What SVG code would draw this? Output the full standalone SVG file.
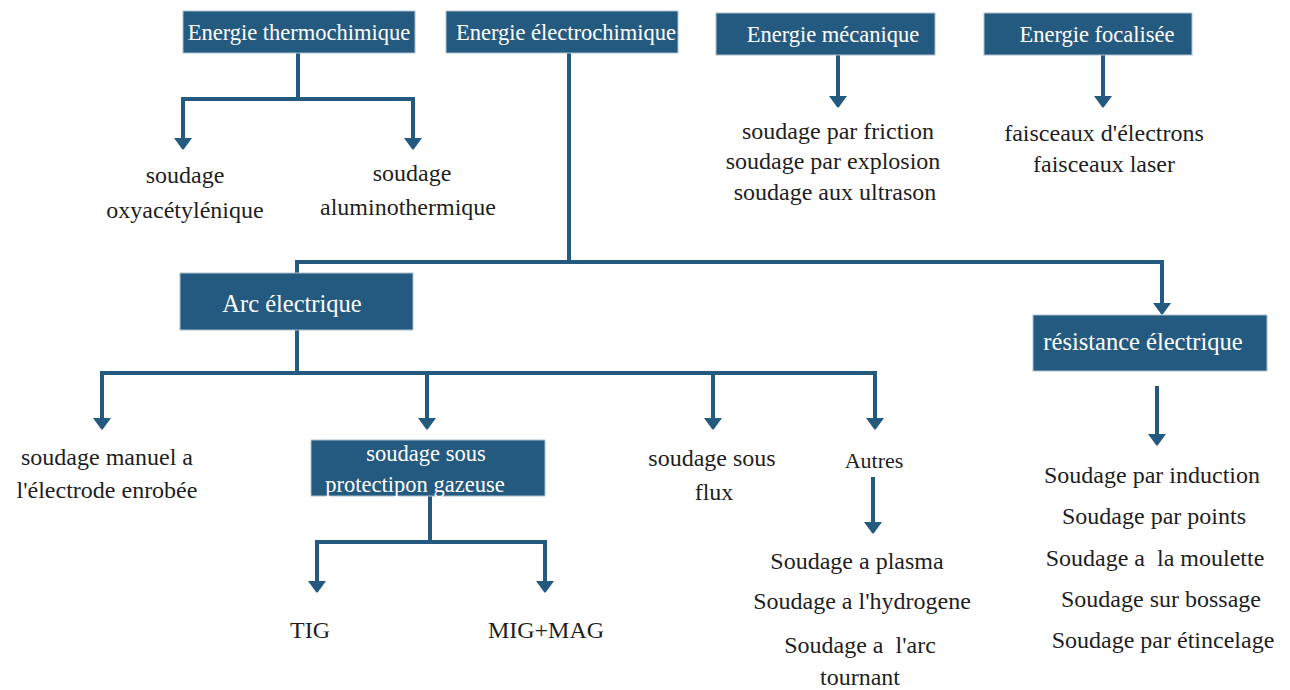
<svg xmlns="http://www.w3.org/2000/svg" width="1290" height="690" viewBox="0 0 1290 690">
<defs>
<marker id="ah" markerUnits="userSpaceOnUse" markerWidth="12" markerHeight="18" viewBox="0 0 12 18" refX="2" refY="9" orient="auto">
<path d="M0,0 L11,8 Q12,9 11,10 L0,18 Z" fill="#245a7f"/>
</marker>
<style>
.box{fill:#245a7f;stroke:#a9c0d2;stroke-width:1}
.bt{font-family:"Liberation Serif",serif;font-size:22.5px;fill:#ffffff;text-anchor:middle}
.bt2{font-family:"Liberation Serif",serif;font-size:24.5px;fill:#ffffff;text-anchor:middle}
.t{font-family:"Liberation Serif",serif;font-size:24px;fill:#1e1e1e;text-anchor:middle}
.ln{fill:none;stroke:#245a7f;stroke-width:4}
.ar{fill:none;stroke:#245a7f;stroke-width:4;marker-end:url(#ah)}
</style>
</defs>
<rect width="1290" height="690" fill="#ffffff"/>
<g id="connectors">
<path class="ln" d="M298,53 V99 M183,99 H415"/>
<path class="ar" d="M183,97 V140"/>
<path class="ar" d="M413,97 V140"/>
<path class="ar" d="M838,55 V98"/>
<path class="ar" d="M1103,55 V98"/>
<path class="ln" d="M569,53 V262 M295,262 H1164 M297,260 V273"/>
<path class="ar" d="M1162,260 V305"/>
<path class="ln" d="M297,330 V373 M100,373 H877"/>
<path class="ar" d="M102,371 V420"/>
<path class="ar" d="M427,371 V420"/>
<path class="ar" d="M713,371 V420"/>
<path class="ar" d="M875,371 V420"/>
<path class="ar" d="M873,477 V524"/>
<path class="ln" d="M430,496 V542 M315,542 H547"/>
<path class="ar" d="M317,540 V583"/>
<path class="ar" d="M545,540 V583"/>
<path class="ar" d="M1157,386 V436"/>
</g>
<g id="n-thermo"><rect class="box" x="183" y="11" width="232" height="42"/><text class="bt" x="299" y="40">Energie thermochimique</text></g>
<g id="n-electro"><rect class="box" x="446" y="11" width="232" height="42"/><text class="bt" x="566" y="40">Energie électrochimique</text></g>
<g id="n-meca"><rect class="box" x="716" y="13" width="219" height="42"/><text class="bt" x="833" y="42">Energie mécanique</text></g>
<g id="n-focal"><rect class="box" x="984" y="13" width="208" height="42"/><text class="bt" x="1097" y="42">Energie focalisée</text></g>
<g id="n-oxy"><text class="t" x="185" y="183">soudage</text><text class="t" x="185" y="218">oxyacétylénique</text></g>
<g id="n-alu"><text class="t" x="412" y="181">soudage</text><text class="t" x="408" y="215">aluminothermique</text></g>
<g id="n-meca-list"><text class="t" x="838" y="139">soudage par friction</text><text class="t" x="833" y="169">soudage par explosion</text><text class="t" x="835" y="200">soudage aux ultrason</text></g>
<g id="n-focal-list"><text class="t" x="1104" y="141">faisceaux d'électrons</text><text class="t" x="1104" y="172">faisceaux laser</text></g>
<g id="n-arc"><rect class="box" x="180" y="273" width="233" height="57"/><text class="bt2" x="292" y="312">Arc électrique</text></g>
<g id="n-resist"><rect class="box" x="1033" y="315" width="234" height="56"/><text class="bt2" x="1143" y="350">résistance électrique</text></g>
<g id="n-manuel"><text class="t" x="107" y="465">soudage manuel a</text><text class="t" x="107" y="498">l'électrode enrobée</text></g>
<g id="n-gaz"><rect class="box" x="311" y="440" width="234" height="56"/><text class="bt" x="426" y="461">soudage sous</text><text class="bt" x="415" y="492">protectipon gazeuse</text></g>
<g id="n-flux"><text class="t" x="712" y="466">soudage sous</text><text class="t" x="714" y="500">flux</text></g>
<g id="n-autres"><text class="t" x="874" y="468" style="font-size:22px">Autres</text></g>
<g id="n-autres-list"><text class="t" x="857" y="569">Soudage a plasma</text><text class="t" x="862" y="609">Soudage a l'hydrogene</text><text class="t" x="860" y="653" xml:space="preserve">Soudage a  l'arc</text><text class="t" x="860" y="685">tournant</text></g>
<g id="n-tig"><text class="t" x="310" y="638">TIG</text></g>
<g id="n-mig"><text class="t" x="546" y="638">MIG+MAG</text></g>
<g id="n-resist-list"><text class="t" x="1152" y="483">Soudage par induction</text><text class="t" x="1154" y="524">Soudage par points</text><text class="t" x="1155" y="566" xml:space="preserve">Soudage a  la moulette</text><text class="t" x="1161" y="607">Soudage sur bossage</text><text class="t" x="1163" y="648">Soudage par étincelage</text></g>
</svg>
